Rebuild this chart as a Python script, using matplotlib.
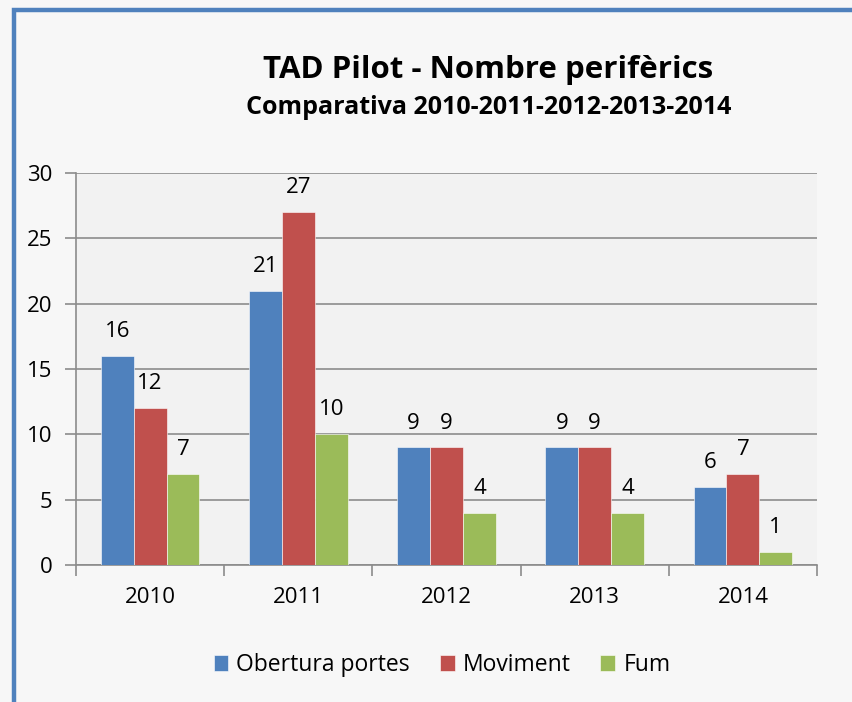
import matplotlib
matplotlib.use("Agg")
import matplotlib.pyplot as plt
import numpy as np
from matplotlib.patches import Rectangle

years = ["2010", "2011", "2012", "2013", "2014"]
series_names = ["Obertura portes", "Moviment", "Fum"]
obertura = [16, 21, 9, 9, 6]
moviment = [12, 27, 9, 9, 7]
fum = [7, 10, 4, 4, 1]
colors = ["#4f81bd", "#c0504d", "#9bbb59"]

plt.rcParams['font.family'] = ['Open Sans', 'DejaVu Sans']

fig = plt.figure(figsize=(8.52, 7.02), dpi=100)
fig.patch.set_facecolor("#f7f7f7")
ax = fig.add_axes([76/852, 1-565/702, (817-76)/852, (565-173)/702])
ax.set_facecolor("#f2f2f2")

# border
fig.add_artist(Rectangle((14/852, -0.1), 1.0, 1-10/702+0.1, transform=fig.transFigure,
                         fill=False, edgecolor="#4f81bd", linewidth=3.2, clip_on=False))

x = np.arange(len(years))
w = 0.222
for i, (vals, c, name) in enumerate(zip([obertura, moviment, fum], colors, series_names)):
    pos = x + (i - 1) * w
    ax.bar(pos, vals, width=w, color=c, edgecolor="#ffffff", linewidth=0.4, label=name, zorder=3)
    for p, v in zip(pos, vals):
        ax.annotate(str(v), (p, v), xytext=(0, 10), textcoords="offset points",
                    ha="center", va="bottom", fontsize=16, color="#000000")

ax.set_xlim(-0.5, len(years) - 0.5)
ax.set_ylim(0, 30)
ax.set_yticks(range(0, 31, 5))
ax.yaxis.grid(True, color="#8c8c8c", linewidth=1.2, zorder=0)
ax.set_axisbelow(True)
ax.set_xticks(x)
ax.set_xticklabels(years)
ax.set_xticks(np.arange(-0.5, len(years), 1), minor=True)
ax.tick_params(axis="x", which="major", length=0, pad=16, labelsize=16)
ax.tick_params(axis="x", which="minor", length=8, width=1.2, color="#8c8c8c", direction="out")
ax.tick_params(axis="y", length=8, width=1.2, color="#8c8c8c", direction="out", pad=9, labelsize=16)
for s in ["top", "right"]:
    ax.spines[s].set_visible(False)
for s in ["left", "bottom"]:
    ax.spines[s].set_color("#8c8c8c")
    ax.spines[s].set_linewidth(1.2)

fig.text(488/852, 1-70/702, "TAD Pilot - Nombre perifèrics", ha="center", va="center",
         fontsize=22.5, fontweight="bold")
fig.text(489/852, 1-108/702, "Comparativa 2010-2011-2012-2013-2014", ha="center", va="center",
         fontsize=18, fontweight="bold")

leg = fig.legend(loc="center", bbox_to_anchor=(442/852, 1-665/702), ncol=3, frameon=False,
                 fontsize=16.5, handlelength=0.65, handleheight=0.65, handletextpad=0.35,
                 columnspacing=1.3)

fig.savefig("out.png", dpi=100, facecolor=fig.get_facecolor())
